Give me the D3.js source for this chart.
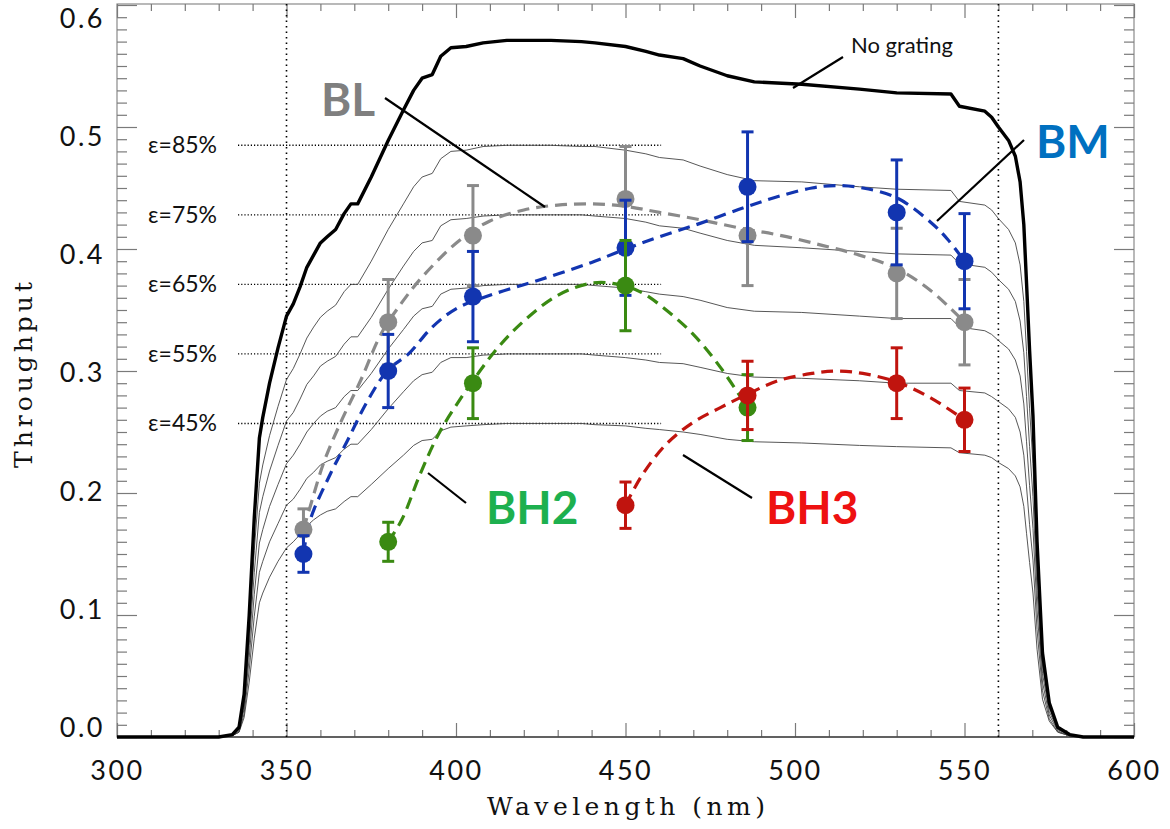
<!DOCTYPE html>
<html><head><meta charset="utf-8">
<script src="https://cdn.jsdelivr.net/npm/d3@7"></script>
<style>
body{margin:0;background:#fff;}
svg{display:block;}
</style></head>
<body>
<svg id="chart" width="1170" height="829"></svg>
<script>
// ---------- DATA ----------
const wavelength = [300,330,334,336,337.5,339,340.5,342,343,345,347.5,350,352,354,356,358,360,362,364.5,367,369,371,375,380,384.5,387.5,390,393,395.5,398.5,403,408,415,428,437,441,450,456,460,467,472,480,488,502,519,530,546,548.5,556,558,560,563,565,566.4,567.5,568.3,569.2,570.2,571.4,573,575,577.5,581,585,600];
const noGrating = [0,0,0.002,0.008,0.035,0.100,0.180,0.245,0.262,0.290,0.319,0.345,0.355,0.369,0.385,0.395,0.405,0.410,0.416,0.429,0.437,0.437,0.459,0.489,0.514,0.530,0.540,0.543,0.558,0.565,0.566,0.569,0.571,0.571,0.570,0.569,0.566,0.562,0.559,0.556,0.550,0.542,0.537,0.535,0.531,0.528,0.527,0.517,0.513,0.508,0.500,0.489,0.476,0.455,0.420,0.372,0.317,0.263,0.160,0.069,0.028,0.008,0.002,0,0];
const eff85 = [0,0,0.002,0.007,0.030,0.085,0.153,0.208,0.223,0.247,0.271,0.293,0.302,0.314,0.327,0.336,0.344,0.349,0.354,0.365,0.371,0.371,0.390,0.416,0.437,0.451,0.459,0.462,0.474,0.480,0.481,0.484,0.485,0.485,0.484,0.484,0.481,0.478,0.475,0.473,0.468,0.461,0.456,0.455,0.451,0.449,0.448,0.439,0.436,0.432,0.425,0.416,0.405,0.387,0.357,0.316,0.269,0.224,0.136,0.059,0.024,0.007,0.002,0,0];
const eff75 = [0,0,0.002,0.006,0.026,0.075,0.135,0.184,0.197,0.218,0.239,0.259,0.266,0.277,0.289,0.296,0.304,0.308,0.312,0.322,0.328,0.328,0.344,0.367,0.386,0.398,0.405,0.407,0.419,0.424,0.425,0.427,0.428,0.428,0.428,0.427,0.425,0.422,0.419,0.417,0.413,0.407,0.403,0.401,0.398,0.396,0.395,0.388,0.385,0.381,0.375,0.367,0.357,0.341,0.315,0.279,0.238,0.197,0.120,0.052,0.021,0.006,0.002,0,0];
const eff65 = [0,0,0.001,0.005,0.023,0.065,0.117,0.159,0.170,0.189,0.207,0.224,0.231,0.240,0.250,0.257,0.263,0.267,0.270,0.279,0.284,0.284,0.298,0.318,0.334,0.345,0.351,0.353,0.363,0.367,0.368,0.370,0.371,0.371,0.371,0.370,0.368,0.365,0.363,0.361,0.358,0.352,0.349,0.348,0.345,0.343,0.343,0.336,0.333,0.330,0.325,0.318,0.309,0.296,0.273,0.242,0.206,0.171,0.104,0.045,0.018,0.005,0.001,0,0];
const eff55 = [0,0,0.001,0.004,0.019,0.055,0.099,0.135,0.144,0.160,0.175,0.190,0.195,0.203,0.212,0.217,0.223,0.226,0.229,0.236,0.240,0.240,0.252,0.269,0.283,0.292,0.297,0.299,0.307,0.311,0.311,0.313,0.314,0.314,0.314,0.313,0.311,0.309,0.307,0.306,0.303,0.298,0.295,0.294,0.292,0.290,0.290,0.284,0.282,0.279,0.275,0.269,0.262,0.250,0.231,0.205,0.174,0.145,0.088,0.038,0.015,0.004,0.001,0,0];
const eff45 = [0,0,0.001,0.004,0.016,0.045,0.081,0.110,0.118,0.131,0.144,0.155,0.160,0.166,0.173,0.178,0.182,0.185,0.187,0.193,0.197,0.197,0.207,0.220,0.231,0.239,0.243,0.244,0.251,0.254,0.255,0.256,0.257,0.257,0.257,0.256,0.255,0.253,0.252,0.250,0.248,0.244,0.242,0.241,0.239,0.238,0.237,0.233,0.231,0.229,0.225,0.220,0.214,0.205,0.189,0.167,0.143,0.118,0.072,0.031,0.013,0.004,0.001,0,0];

const effLabels = ["ε=85%","ε=75%","ε=65%","ε=55%","ε=45%"];
const effLevels = [0.485,0.428,0.371,0.314,0.257];

const blWl  = [355,380,405,450,486,530,550];
const blVal = [0.170,0.340,0.411,0.441,0.411,0.380,0.340];
const blErr = [0.017,0.035,0.041,0.043,0.041,0.037,0.035];
const bmWl  = [355,380,405,450,486,530,550];
const bmVal = [0.150,0.300,0.361,0.401,0.451,0.430,0.390];
const bmErr = [0.015,0.030,0.037,0.039,0.045,0.043,0.039];
const bh2Wl  = [380,405,450,486];
const bh2Val = [0.160,0.290,0.370,0.270];
const bh2Err = [0.016,0.029,0.037,0.027];
const bh3Wl  = [450,486,530,550];
const bh3Val = [0.190,0.280,0.290,0.260];
const bh3Err = [0.019,0.028,0.029,0.026];

const blFitWl  = [355,357,361,366,372,378,384,390,401,410,420,430,440,450,460,472,484,496,508,519,530,540,550];
const blFitVal = [0.170,0.189,0.225,0.258,0.293,0.331,0.356,0.377,0.407,0.423,0.432,0.436,0.437,0.435,0.430,0.424,0.417,0.411,0.403,0.395,0.384,0.366,0.340];
const bmFitWl  = [355,357,363,368,374,380,386,393,400,410,425,440,450,460,472,485,495,505,512,520,530,540,545,550];
const bmFitVal = [0.150,0.178,0.216,0.243,0.276,0.301,0.314,0.336,0.351,0.362,0.375,0.389,0.400,0.410,0.421,0.434,0.443,0.450,0.452,0.450,0.442,0.422,0.408,0.390];
const bh2FitWl  = [380,384,389.5,395,401,405,412,420,430,440,448,455,462,470,478,486];
const bh2FitVal = [0.160,0.178,0.216,0.249,0.276,0.292,0.318,0.341,0.362,0.372,0.371,0.364,0.350,0.330,0.303,0.270];
const bh3FitWl  = [450,455,462,470,478,486,495,505,512,520,530,540,550];
const bh3FitVal = [0.190,0.215,0.240,0.258,0.270,0.281,0.292,0.298,0.300,0.298,0.291,0.278,0.260];

const xMajor = [300,350,400,450,500,550,600];
const yMajor = [0.0,0.1,0.2,0.3,0.4,0.5,0.6];
const yTickLabels = ["0.0","0.1","0.2","0.3","0.4","0.5","0.6"];
const markerLines = [350,560];

// ---------- CHART ----------
const svg = d3.select("#chart");
const L=117,R=1134,T=4,B=737;
const x = d3.scaleLinear().domain([300,600]).range([L,R]);
const y = d3.scaleLinear().domain([0,0.6]).range([B,T+1]);
// tick-label placement scale (labels in the original sit slightly off their ticks)
const yLab = d3.scaleLinear().domain([0,0.6]).range([728,18.5]);

const xMinor = d3.range(300,601,10).filter(v=>v%50!==0);
const yMinor = d3.range(0,61,1).map(v=>v/100).filter((v,i)=>i%10!==0);

// frame
svg.append("rect").attr("x",L).attr("y",T).attr("width",R-L).attr("height",B-T)
  .attr("fill","none").attr("stroke","#8a8a8a").attr("stroke-width",1.2);

function styleAxis(g){ g.select(".domain").remove(); g.selectAll("line").attr("stroke","#7a7a7a").attr("stroke-width",1.2); }
const tickFont = g=>g.selectAll("text").attr("font-family","Lato").attr("font-size",27).attr("letter-spacing",2.5).attr("fill","#111");

// bottom
svg.append("g").attr("transform",`translate(0,${B})`)
  .call(d3.axisBottom(x).tickValues(xMajor).tickSize(-14).tickPadding(24).tickFormat(d3.format("d")))
  .call(styleAxis).call(tickFont);
svg.append("g").attr("transform",`translate(0,${B})`)
  .call(d3.axisBottom(x).tickValues(xMinor).tickSize(-7).tickFormat(""))
  .call(styleAxis);
// top
svg.append("g").attr("transform",`translate(0,${T})`)
  .call(d3.axisTop(x).tickValues(xMajor).tickSize(-14).tickFormat(""))
  .call(styleAxis);
svg.append("g").attr("transform",`translate(0,${T})`)
  .call(d3.axisTop(x).tickValues(xMinor).tickSize(-7).tickFormat(""))
  .call(styleAxis);
// left
svg.append("g").attr("transform",`translate(${L},0)`)
  .call(d3.axisLeft(y).tickValues(yMajor).tickSize(-20).tickFormat(""))
  .call(styleAxis);
svg.append("g").attr("transform",`translate(${L},0)`)
  .call(d3.axisLeft(y).tickValues(yMinor).tickSize(-10).tickFormat(""))
  .call(styleAxis);
svg.append("g").attr("transform",`translate(${L},0)`)
  .call(d3.axisLeft(yLab).tickValues(yMajor).tickSize(0).tickPadding(12).tickFormat((d,i)=>yTickLabels[i]))
  .call(g=>g.select(".domain").remove()).call(tickFont);
// right
svg.append("g").attr("transform",`translate(${R},0)`)
  .call(d3.axisRight(y).tickValues(yMajor).tickSize(-20).tickFormat(""))
  .call(styleAxis);
svg.append("g").attr("transform",`translate(${R},0)`)
  .call(d3.axisRight(y).tickValues(yMinor).tickSize(-10).tickFormat(""))
  .call(styleAxis);
// bottom axis darker line
svg.append("line").attr("x1",L).attr("x2",R).attr("y1",B).attr("y2",B).attr("stroke","#444").attr("stroke-width",1.5);

// axis titles
svg.append("text").attr("x",626).attr("y",815).attr("text-anchor","middle")
  .attr("font-family","DejaVu Serif").attr("font-size",25).attr("textLength",278).attr("lengthAdjust","spacing")
  .attr("fill","#111").text("Wavelength (nm)");
svg.append("text").attr("transform","translate(32,375) rotate(-90)").attr("text-anchor","middle")
  .attr("font-family","DejaVu Serif").attr("font-size",25).attr("textLength",186).attr("lengthAdjust","spacing")
  .attr("fill","#111").text("Throughput");

// vertical dotted markers
svg.selectAll(".vmark").data(markerLines).enter().append("line")
  .attr("x1",d=>x(d)).attr("x2",d=>x(d)).attr("y1",T).attr("y2",B)
  .attr("stroke","#000").attr("stroke-width",1.6).attr("stroke-dasharray","1.5,4");

// efficiency dotted lines + labels
svg.selectAll(".hmark").data(effLevels).enter().append("line")
  .attr("x1",238).attr("x2",x(460.5)).attr("y1",d=>y(d)).attr("y2",d=>y(d))
  .attr("stroke","#000").attr("stroke-width",1.4).attr("stroke-dasharray","1.2,2");
svg.selectAll(".hlab").data(effLevels).enter().append("text")
  .attr("x",217).attr("y",d=>y(d)+8).attr("text-anchor","end")
  .attr("font-family","Lato").attr("font-size",23).attr("fill","#111")
  .text((d,i)=>effLabels[i]);

// curves
const line = d3.line().x(d=>x(d[0])).y(d=>y(d[1]));
[eff85,eff75,eff65,eff55,eff45].forEach(arr=>{
  svg.append("path").attr("d",line(wavelength.map((w,i)=>[w,arr[i]])))
    .attr("fill","none").attr("stroke","#444").attr("stroke-width",0.9);
});
svg.append("path").attr("d",line(wavelength.map((w,i)=>[w,noGrating[i]])))
  .attr("fill","none").attr("stroke","#000").attr("stroke-width",3.4).attr("stroke-linejoin","round");

// series
const curve = d3.line().curve(d3.curveCatmullRom.alpha(0.5)).x(d=>x(d[0])).y(d=>y(d[1]));
const series = [
  {wl:blWl,val:blVal,err:blErr,fw:blFitWl,fv:blFitVal,col:"#8a8a8a"},
  {wl:bmWl,val:bmVal,err:bmErr,fw:bmFitWl,fv:bmFitVal,col:"#1235b0"},
  {wl:bh2Wl,val:bh2Val,err:bh2Err,fw:bh2FitWl,fv:bh2FitVal,col:"#3a8a12"},
  {wl:bh3Wl,val:bh3Val,err:bh3Err,fw:bh3FitWl,fv:bh3FitVal,col:"#c0140e"}
];
series.forEach(s=>{
  svg.append("path").attr("d",curve(s.fw.map((w,i)=>[w,s.fv[i]])))
    .attr("fill","none").attr("stroke",s.col).attr("stroke-width",3.2).attr("stroke-dasharray","12,7");
});
series.forEach(s=>{
  const g = svg.append("g");
  s.wl.forEach((w,i)=>{
    const cx=x(w), lo=y(s.val[i]-s.err[i]), hi=y(s.val[i]+s.err[i]);
    g.append("line").attr("x1",cx).attr("x2",cx).attr("y1",lo).attr("y2",hi).attr("stroke",s.col).attr("stroke-width",3);
    g.append("line").attr("x1",cx-6).attr("x2",cx+6).attr("y1",lo).attr("y2",lo).attr("stroke",s.col).attr("stroke-width",3);
    g.append("line").attr("x1",cx-6).attr("x2",cx+6).attr("y1",hi).attr("y2",hi).attr("stroke",s.col).attr("stroke-width",3);
    g.append("circle").attr("cx",cx).attr("cy",y(s.val[i])).attr("r",9).attr("fill",s.col);
  });
});

// annotations
function lead(x1,y1,x2,y2){ svg.append("line").attr("x1",x1).attr("y1",y1).attr("x2",x2).attr("y2",y2).attr("stroke","#000").attr("stroke-width",2.2); }
lead(385,98,545,207);
lead(1024,140,937,221);
lead(428,473,466,503);
lead(683,455,752,498);
lead(843,57,793,88);
function lab(t,xx,yy,col,size,bold){ svg.append("text").attr("x",xx).attr("y",yy).attr("font-family","Lato").attr("font-weight",bold?"bold":"normal").attr("font-size",size).attr("fill",col).text(t); }
lab("BL",321,116,"#7f7f7f",46,true);
lab("BM",1036,158,"#0070c0",46,true);
lab("BH2",486,524,"#1db04f",46,true);
lab("BH3",766,524,"#ee1111",46,true);
lab("No grating",851,53,"#111",22,false);
</script>
</body></html>
